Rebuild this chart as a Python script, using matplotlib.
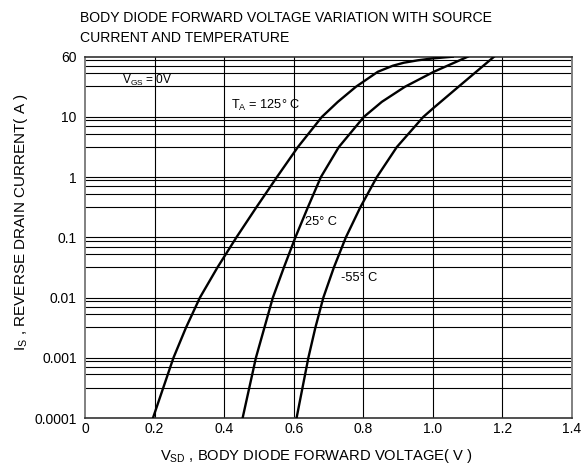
import matplotlib
matplotlib.use("Agg")
import matplotlib.pyplot as plt

plt.rcParams['font.family'] = ['Liberation Sans', 'DejaVu Sans']
plt.rcParams['mathtext.fontset'] = 'custom'
plt.rcParams['mathtext.rm'] = 'Liberation Sans'
plt.rcParams['mathtext.it'] = 'Liberation Sans'

# ---- data ----
current_125 = [1e-4, 1e-3, 0.00316, 0.01, 0.0316, 0.1, 0.316, 1.0, 3.16, 10, 17.8, 31.6,
               56.2, 70.8, 79.4, 87.1, 93.3, 100]
vsd_125     = [0.1954, 0.2543, 0.2902, 0.3304, 0.3807, 0.4353, 0.4927, 0.5516, 0.6120, 0.6809,
               0.7269, 0.7786, 0.8418, 0.8849, 0.9165, 0.9567, 0.9969, 1.0573]

current_25 = [1e-4, 1e-3, 1e-2, 0.0316, 0.1, 0.316, 1.0, 3.16, 10, 17.8, 31.6, 56.2, 100]
vsd_25     = [0.4531, 0.4913, 0.5401, 0.5717, 0.6048, 0.6407, 0.6780, 0.7297, 0.8016, 0.8533,
              0.9194, 1.0027, 1.1004]

current_m55 = [1e-4, 1e-3, 0.00316, 0.01, 0.0316, 0.1, 0.316, 1.0, 3.16, 10, 13.9, 31.6, 100]
vsd_m55     = [0.6082, 0.6421, 0.6622, 0.6852, 0.7154, 0.7499, 0.7915, 0.8389, 0.8964, 0.9725,
               1.0007, 1.0734, 1.1759]

x_ticks = [0, 0.2, 0.4, 0.6, 0.8, 1.0, 1.2, 1.4]
x_ticklabels = ['0', '0.2', '0.4', '0.6', '0.8', '1.0', '1.2', '1.4']
y_ticks = [1e-4, 1e-3, 1e-2, 1e-1, 1, 10, 100]
y_ticklabels = ['0.0001', '0.001', '0.01', '0.1', '1', '10', '60']
minor_fracs = [0.88, 0.70, 0.53, 0.32]

fig = plt.figure(figsize=(5.82, 4.71), dpi=100)
ax = fig.add_axes([85/582, 1-418/471, (572-85)/582, (418-56.7)/471])
ax.set_yscale('log')
ax.set_xlim(0, 1.4)
ax.set_ylim(1e-4, 100)

# grid
for d in y_ticks[:-1]:
    for f in minor_fracs:
        ax.axhline(d*10*f, color='black', lw=0.8, zorder=1)
for d in y_ticks[1:-1]:
    ax.axhline(d, color='black', lw=0.8, zorder=1)
for xv in x_ticks[1:-1]:
    ax.axvline(xv, color='black', lw=0.8, zorder=1)

for v, c in [(vsd_125, current_125), (vsd_25, current_25), (vsd_m55, current_m55)]:
    ax.plot(v, c, color='black', lw=1.7, zorder=3, solid_joinstyle='round')

ax.set_xticks(x_ticks)
ax.set_xticklabels(x_ticklabels)
ax.set_yticks(y_ticks)
ax.set_yticklabels(y_ticklabels)
ax.minorticks_off()
ax.tick_params(length=0, labelsize=10)
ax.tick_params(axis='x', pad=3)
ax.tick_params(axis='y', pad=6)
for s in ['left', 'right']:
    ax.spines[s].set_color('#808080')
    ax.spines[s].set_linewidth(1.4)
for s in ['top', 'bottom']:
    ax.spines[s].set_color('#333333')
    ax.spines[s].set_linewidth(1.2)

ax.text(0.105, 41, r'V$_{\rm GS}$ = 0V', fontsize=8.6, va='center', ha='left')
ax.text(0.421, 15.8, r'T$_{\rm A}$ = 125° C', fontsize=9.2, va='center', ha='left')
ax.text(0.632, 0.18, '25° C', fontsize=9.2, va='center', ha='left')
ax.text(0.737, 0.0214, '-55° C', fontsize=9.2, va='center', ha='left')

fig.text(80/582, 1-18/471, 'BODY DIODE FORWARD VOLTAGE VARIATION WITH SOURCE', fontsize=10.1,
         ha='left', va='center')
fig.text(80/582, 1-38/471, 'CURRENT AND TEMPERATURE', fontsize=10.1, ha='left', va='center')
fig.text(316/582, 1-456/471, r'V$_{\rm SD}$ , BODY DIODE FORWARD VOLTAGE( V )', fontsize=10.6,
         ha='center', va='center')
fig.text(21/582, 1-222/471, r'I$_{\rm S}$ , REVERSE DRAIN CURRENT( A )', fontsize=11,
         ha='center', va='center', rotation=90)

fig.savefig('out.png', dpi=100)
